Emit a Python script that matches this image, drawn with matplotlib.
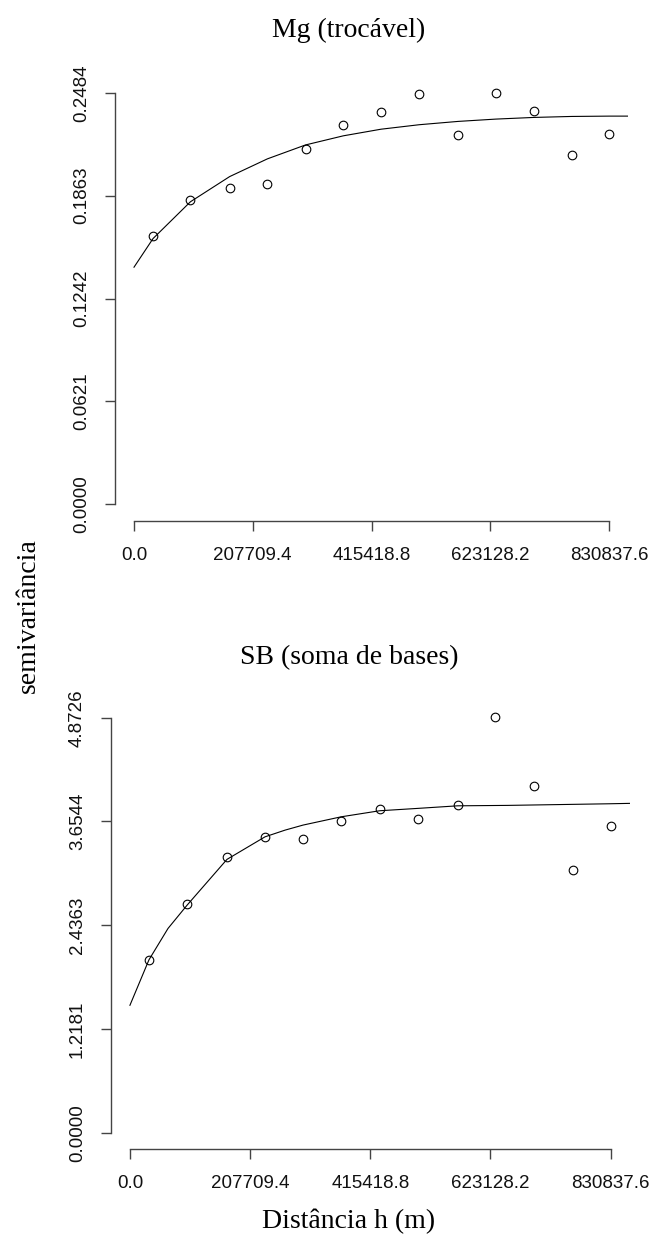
import matplotlib
matplotlib.use('Agg')
import matplotlib.pyplot as plt

# Mg (trocável) - experimental semivariogram
mg_dist = [33340, 98730, 167330, 233360, 300030, 366070, 432100,
           498780, 566730, 632770, 698800, 765470, 831500]
mg_gamma = [0.1619, 0.1835, 0.1912, 0.1934, 0.2142, 0.2291, 0.2369,
            0.2476, 0.2228, 0.2482, 0.2375, 0.2111, 0.2234]
# fitted model line
mg_model_x = [0, 33340, 98730, 167330, 233360, 300030, 366070, 432100,
              498780, 566730, 632770, 698800, 765470, 831500, 865500]
mg_model_y = [0.1431, 0.1604, 0.1826, 0.1978, 0.2085, 0.2169, 0.2224, 0.2264,
              0.2291, 0.2311, 0.2325, 0.2335, 0.2341, 0.2343, 0.2343]
mg_yticks = [0.0, 0.0621, 0.1242, 0.1863, 0.2484]
mg_ylabels = ['0.0000', '0.0621', '0.1242', '0.1863', '0.2484']

# SB (soma de bases)
sb_dist = [32900, 98720, 167700, 233500, 299300, 365100, 431600,
           498000, 566400, 631500, 698600, 765100, 830800]
sb_gamma = [2.033, 2.691, 3.239, 3.467, 3.447, 3.659, 3.800,
            3.686, 3.843, 4.877, 4.067, 3.083, 3.603]
sb_model_x = [0, 32900, 65800, 98720, 167700, 233500, 268300,
              299300, 365100, 431600, 498000, 566400, 653000, 828300, 865500]
sb_model_y = [1.496, 2.03, 2.398, 2.671, 3.209, 3.474, 3.553,
              3.612, 3.709, 3.780, 3.808, 3.838, 3.843, 3.862, 3.867]
sb_yticks = [0.0, 1.2181, 2.4363, 3.6544, 4.8726]
sb_ylabels = ['0.0000', '1.2181', '2.4363', '3.6544', '4.8726']

xticks = [0.0, 207709.4, 415418.8, 623128.2, 830837.6]
xlabels = ['0.0', '207709.4', '415418.8', '623128.2', '830837.6']

W, H = 654, 1240
fig = plt.figure(figsize=(W / 100, H / 100), dpi=100)
fig.patch.set_facecolor('white')

SERIF = 'Liberation Serif'
SANS = 'Liberation Sans'
AXCOL = '#444444'


def add_axes_px(left, top, right, bottom):
    return fig.add_axes([left / W, 1 - bottom / H, (right - left) / W, (bottom - top) / H])


def draw_panel(ax, dist, gamma, mx, my, yticks, ylabels):
    xmax = xticks[-1]
    ymax = yticks[-1]
    ax.plot(mx, my, color='black', lw=0.8)
    ax.plot(dist, gamma, 'o', mfc='none', mec='black', ms=6.2, mew=0.8)
    ax.set_xlim(-0.04 * xmax, 1.04 * xmax)
    ax.set_ylim(-0.04 * ymax, 1.04 * ymax)
    for s in ['top', 'right']:
        ax.spines[s].set_visible(False)
    ax.spines['left'].set_bounds(0, ymax)
    ax.spines['bottom'].set_bounds(0, xmax)
    for s in ['left', 'bottom']:
        ax.spines[s].set_color(AXCOL)
        ax.spines[s].set_linewidth(1.0)
    ax.set_xticks(xticks)
    ax.set_xticklabels(xlabels, fontfamily=SANS, fontsize=13.5)
    ax.set_yticks(yticks)
    ax.set_yticklabels(ylabels, fontfamily=SANS, fontsize=13.5,
                       rotation=90, va='center')
    ax.tick_params(direction='out', length=7.2, width=1.0, color=AXCOL,
                   labelcolor='#111111')
    ax.tick_params(axis='x', pad=11.5)
    ax.tick_params(axis='y', pad=10.5)


ax1 = add_axes_px(115, 76.3, 628, 520.7)
draw_panel(ax1, mg_dist, mg_gamma, mg_model_x, mg_model_y, mg_yticks, mg_ylabels)

ax2 = add_axes_px(110.7, 701.1, 629.9, 1149.3)
draw_panel(ax2, sb_dist, sb_gamma, sb_model_x, sb_model_y, sb_yticks, sb_ylabels)

cx = 349 / W
fig.text(cx, 1 - 37 / H, 'Mg (trocável)', ha='center', va='baseline',
         fontfamily=SERIF, fontsize=20)
fig.text(cx, 1 - 664 / H, 'SB (soma de bases)', ha='center', va='baseline',
         fontfamily=SERIF, fontsize=20)
fig.text(cx, 1 - 1228 / H, 'Distância h (m)', ha='center', va='baseline',
         fontfamily=SERIF, fontsize=20)
fig.text(35 / W, 1 - 616 / H, 'semivariância', ha='center', va='baseline',
         rotation=90, rotation_mode='anchor', fontfamily=SERIF, fontsize=20)

fig.savefig('out.png', dpi=100)
